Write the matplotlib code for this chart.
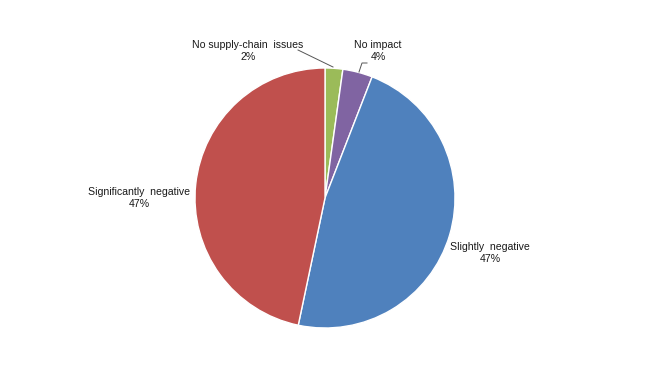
import matplotlib
matplotlib.use("Agg")
import matplotlib.pyplot as plt

categories = ["No supply-chain  issues", "No impact", "Slightly  negative", "Significantly  negative"]
values = [2.2, 3.7, 47.4, 46.7]
pct_labels = ["2%", "4%", "47%", "47%"]
colors = ["#9BBB59", "#8064A2", "#4F81BD", "#C0504D"]

W, H = 650, 384
fig = plt.figure(figsize=(W / 100, H / 100), dpi=100)
ax = fig.add_axes([0, 0, 1, 1])

cx, cy, r = 325, H - 198, 130
ax.pie(values, colors=colors, startangle=90, counterclock=False,
       center=(cx, cy), radius=r, frame=True,
       wedgeprops=dict(edgecolor="white", linewidth=1))
ax.set_xlim(0, W)
ax.set_ylim(0, H)
ax.set_aspect("equal")
ax.axis("off")

font = dict(family=["Liberation Sans", "DejaVu Sans"], fontsize=7.6, color="#1a1a1a",
            ha="center", va="center", linespacing=1.35)
label_pos = [(248, 51), (378, 51), (490, 253), (139, 198)]
for cat, p, (x, y) in zip(categories, pct_labels, label_pos):
    ax.text(x, H - y, f"{cat}\n{p}", **font)

# leader lines
ax.plot([298, 333], [H - 50, H - 67], color="#555555", lw=0.7)
ax.plot([359, 362, 367], [H - 72, H - 63, H - 63], color="#555555", lw=0.7)

fig.savefig("out.png", dpi=100)
